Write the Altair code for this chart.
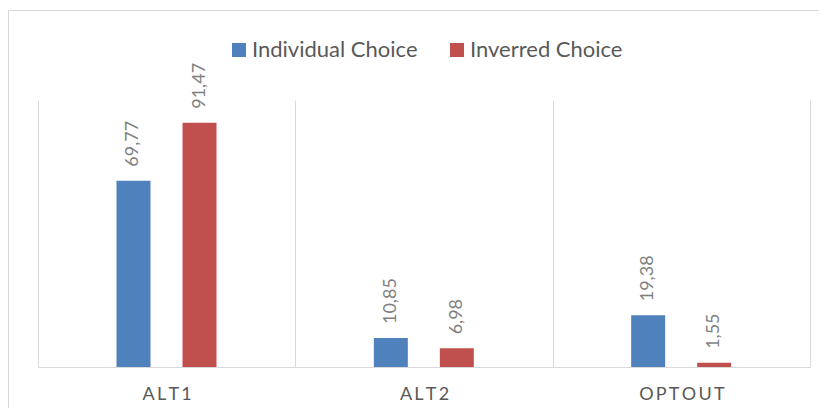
import altair as alt
import pandas as pd

categories = ["ALT1", "ALT2", "OPTOUT"]
series = ["Individual Choice", "Inverred Choice"]
individual_choice = [69.77, 10.85, 19.38]
inverred_choice = [91.47, 6.98, 1.55]
colors = ["#4f81bd", "#c0504d"]

rows = []
for c, a, b in zip(categories, individual_choice, inverred_choice):
    rows.append({"cat": c, "series": series[0], "value": a})
    rows.append({"cat": c, "series": series[1], "value": b})
df = pd.DataFrame(rows)

FONT = "Lato"

base = alt.Chart(df).transform_calculate(
    label="replace(format(datum.value, '.2f'), '.', ',')"
).encode(
    x=alt.X(
        "cat:N",
        sort=categories,
        scale=alt.Scale(paddingInner=0, paddingOuter=0),
        axis=alt.Axis(
            title=None,
            labelAngle=0,
            ticks=False,
            grid=True,
            tickBand="extent",
            gridColor="#d9d9d9",
            domainColor="#d9d9d9",
            labelExpr="join(split(datum.label, ''), '\u2009')",
            labelFontSize=18,
            labelColor="#595959",
            labelFont=FONT,
            labelPadding=18,
        ),
    ),
    xOffset=alt.XOffset(
        "series:N",
        sort=series,
        scale=alt.Scale(range=[45.5, 211.5], paddingInner=0.485, paddingOuter=0.5),
    ),
    y=alt.Y("value:Q", scale=alt.Scale(domain=[0, 100]), axis=None),
)

bars = base.mark_bar().encode(
    color=alt.Color(
        "series:N",
        sort=series,
        scale=alt.Scale(domain=series, range=colors),
        legend=alt.Legend(
            title=None,
            orient="none",
            legendX=190,
            legendY=-61,
            direction="horizontal",
            symbolType="square",
            symbolSize=196,
            symbolStrokeWidth=0,
            symbolOpacity=1,
            labelFontSize=22,
            labelFont=FONT,
            labelColor="#595959",
            labelOffset=2,
            labelLimit=400,
            columnPadding=28,
        ),
    )
)

labels = base.mark_text(
    angle=270, align="left", baseline="middle", dx=14, fontSize=18, font=FONT, color="#7f7f7f"
).encode(text="label:N")

border = alt.Chart(pd.DataFrame({"b": [0]})).mark_rect(
    filled=False, stroke="#d9d9d9", strokeWidth=1
).encode(
    x=alt.value(-29.5), x2=alt.value(1000), y=alt.value(-89.5), y2=alt.value(1000)
)

chart = alt.layer(border, bars, labels).properties(
    width=772,
    height=267,
    padding={"left": 30, "top": 92, "right": 9, "bottom": 41},
    autosize=alt.AutoSizeParams(type="none"),
).configure_view(stroke=None)

chart.save("out.html", embed_options={"renderer": "svg", "actions": False})
